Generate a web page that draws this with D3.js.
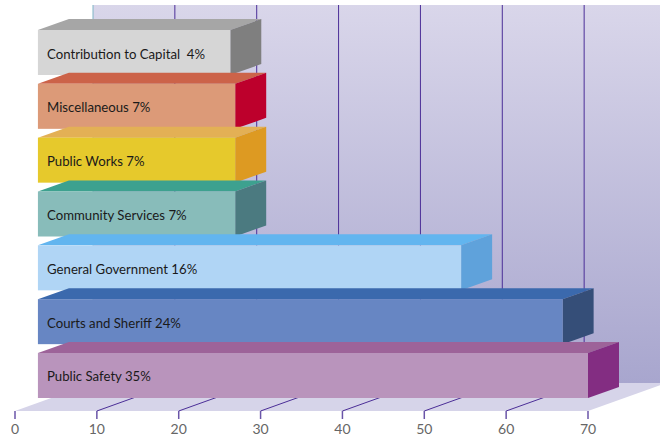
<!DOCTYPE html>
<html><head><meta charset="utf-8">
<script src="https://d3js.org/d3.v7.min.js"></script>
<style>html,body{margin:0;padding:0;background:#fff}svg{display:block}</style>
</head><body><svg id="c" width="660" height="439"></svg>
<script>
const categories=["Contribution to Capital  4%","Miscellaneous 7%","Public Works 7%","Community Services 7%","General Government 16%","Courts and Sheriff 24%","Public Safety 35%"];
const values=[26.3,26.9,26.9,26.9,54.5,66.9,70];
const barStart=2.8;
const ticks=[0,10,20,30,40,50,60,70];
const frontColors=["#d6d6d6","#dc9a78","#e6c92c","#88bcba","#b0d5f5","#6786c3","#b994bc"];
const topColors=["#a6a6a6","#cc6349","#e3b055","#3da18f","#62b5ef","#3b69ad","#9d6399"];
const sideColors=["#7f7f7f","#bd002c","#dd9a22","#4b7a80","#5fa2db","#354e78","#832d82"];

const W=660,H=439,dx=31,dy=11,backX=78,backY=28,floorY=411,wallTop=5;
const svg=d3.select("#c");
const x=d3.scaleLinear().domain([0,70]).range([15,588]);
const y=d3.scaleBand().domain(categories).range([30,398]).paddingInner(0.164).paddingOuter(0);
const defs=svg.append("defs");
const g=defs.append("linearGradient").attr("id","wall").attr("x1",0).attr("x2",0).attr("y1",0).attr("y2",1);
g.append("stop").attr("offset",0).attr("stop-color","#d9d6ea");
g.append("stop").attr("offset",1).attr("stop-color","#a8a6ce");
const poly=pts=>pts.map(p=>p.join(",")).join(" ");

// wall and floor
svg.append("rect").attr("x",x(0)+backX).attr("y",wallTop).attr("width",W-x(0)-backX).attr("height",floorY-backY-wallTop).attr("fill","url(#wall)");
svg.append("polygon").attr("points",poly([[x(0),floorY],[x(70),floorY],[x(70)+backX,floorY-backY],[x(0)+backX,floorY-backY]])).attr("fill","#d6d4e9");

// grid
const gridG=svg.append("g");
ticks.forEach(t=>{
  const px=x(t);
  if(t===0) gridG.append("line").attr("stroke","#7fb5c5").attr("stroke-width",1)
    .attr("x1",px+backX).attr("x2",px+backX).attr("y1",wallTop).attr("y2",floorY-backY);
  else if(t<70) gridG.append("polyline").attr("fill","none")
    .attr("stroke","#4b2e97").attr("stroke-width",1)
    .attr("points",poly([[px,floorY],[px+backX,floorY-backY],[px+backX,wallTop]]));
  svg.append("line").attr("x1",px).attr("x2",px).attr("y1",floorY).attr("y2",floorY+8)
    .attr("stroke","#6a55a8").attr("stroke-width",1.5);
  svg.append("text").attr("x",px).attr("y",434).attr("text-anchor","middle")
    .attr("font-family","Lato").attr("font-size",14).attr("fill","#666").text(t);
});

// bars, back to front
categories.forEach((c,i)=>{
  const l=x(barStart),r=x(values[i]),t=y(c),b=t+y.bandwidth();
  svg.append("polygon").attr("fill",topColors[i]).attr("points",poly([[l,t],[r,t],[r+dx,t-dy],[l+dx,t-dy]]));
  svg.append("polygon").attr("fill",sideColors[i]).attr("points",poly([[r,t],[r+dx,t-dy],[r+dx,b-dy],[r,b]]));
  svg.append("rect").attr("x",l).attr("y",t).attr("width",r-l).attr("height",b-t).attr("fill",frontColors[i]);
  svg.append("text").attr("x",47).attr("y",(t+b)/2+6).style("white-space","pre")
    .attr("font-family","Lato").attr("font-size",13.2).attr("fill","#1a1a1a").text(c);
});
</script></body></html>
